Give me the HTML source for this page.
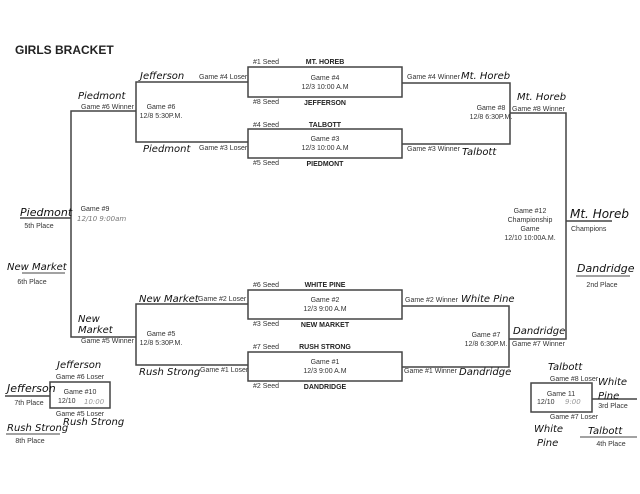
<!DOCTYPE html>
<html><head><meta charset="utf-8"><style>
html,body{margin:0;padding:0;background:#fff;}
svg{display:block;}
.t{font-family:"Liberation Sans",sans-serif;font-size:7px;fill:#333;}
.b{font-family:"Liberation Sans",sans-serif;font-size:7px;font-weight:bold;fill:#222;}
.h{font-family:"DejaVu Sans","Liberation Sans",sans-serif;font-size:10px;fill:#111;font-style:italic;}
</style></head><body>
<svg width="640" height="494" viewBox="0 0 640 494" xmlns="http://www.w3.org/2000/svg">
<rect width="640" height="494" fill="#fff"/>
<text x="15" y="54" font-family="Liberation Sans,sans-serif" font-size="12" font-weight="bold" fill="#222">GIRLS BRACKET</text>
<g stroke="#444" stroke-width="1.5" fill="none">
<!-- first-round boxes -->
<rect x="248" y="67" width="154" height="30"/>
<rect x="248" y="129" width="154" height="29"/>
<rect x="248" y="290" width="154" height="29"/>
<rect x="248" y="352" width="154" height="29"/>
<!-- game 6 -->
<polyline points="248,82 136,82 136,142 248,142"/>
<!-- game 5 -->
<polyline points="248,304 136,304 136,365 248,365"/>
<!-- game 9 -->
<polyline points="136,111 71,111 71,337 136,337"/>
<line x1="20" y1="218" x2="71" y2="218"/>
<!-- game 8 -->
<polyline points="402,83 510,83 510,144 402,144"/>
<!-- game 7 -->
<polyline points="402,306 509,306 509,367 402,367"/>
<!-- game 12 -->
<polyline points="510,113 566,113 566,339 509,339"/>
<line x1="566" y1="221" x2="612" y2="221"/>
<!-- consolation -->
<rect x="50" y="382" width="60" height="26"/>
<line x1="5" y1="396" x2="50" y2="396"/>
<rect x="531" y="383" width="61" height="29"/>
<line x1="592" y1="399" x2="637" y2="399"/>
</g>
<g stroke="#444" stroke-width="1" fill="none">
<line x1="22" y1="273" x2="65" y2="273"/>
<line x1="6" y1="434" x2="60" y2="434"/>
<line x1="576" y1="276" x2="630" y2="276"/>
<line x1="580" y1="437" x2="637" y2="437"/>
</g>
<!-- seeds -->
<g class="t">
<text x="253" y="64">#1 Seed</text><text x="253" y="104">#8 Seed</text>
<text x="253" y="127">#4 Seed</text><text x="253" y="165">#5 Seed</text>
<text x="253" y="287">#6 Seed</text><text x="253" y="326">#3 Seed</text>
<text x="253" y="349">#7 Seed</text><text x="253" y="388">#2 Seed</text>
</g>
<g class="b" text-anchor="middle">
<text x="325" y="64">MT. HOREB</text><text x="325" y="105">JEFFERSON</text>
<text x="325" y="127">TALBOTT</text><text x="325" y="166">PIEDMONT</text>
<text x="325" y="287">WHITE PINE</text><text x="325" y="327">NEW MARKET</text>
<text x="325" y="349">RUSH STRONG</text><text x="325" y="389">DANDRIDGE</text>
</g>
<g class="t" text-anchor="middle">
<text x="325" y="80">Game #4</text><text x="325" y="89">12/3 10:00 A.M</text>
<text x="325" y="141">Game #3</text><text x="325" y="150">12/3 10:00 A.M</text>
<text x="325" y="302">Game #2</text><text x="325" y="311">12/3 9:00 A.M</text>
<text x="325" y="364">Game #1</text><text x="325" y="373">12/3 9:00 A.M</text>
<text x="161" y="109">Game #6</text><text x="161" y="118">12/8 5:30P.M.</text>
<text x="161" y="336">Game #5</text><text x="161" y="345">12/8 5:30P.M.</text>
<text x="163" y="111"> </text>
<text x="491" y="110">Game #8</text><text x="491" y="119">12/8 6:30P.M.</text>
<text x="486" y="337">Game #7</text><text x="486" y="346">12/8 6:30P.M.</text>
<text x="95" y="211">Game #9</text>
<text x="530" y="213">Game #12</text><text x="530" y="222">Championship</text><text x="530" y="231">Game</text><text x="530" y="240">12/10 10:00A.M.</text>
<text x="80" y="394">Game #10</text>
<text x="561" y="396">Game 11</text>
<text x="80" y="379">Game #6 Loser</text><text x="80" y="416">Game #5 Loser</text>
<text x="574" y="381">Game #8 Loser</text><text x="574" y="419">Game #7 Loser</text>
<text x="39" y="228">5th Place</text><text x="32" y="284">6th Place</text>
<text x="29" y="405">7th Place</text><text x="30" y="443">8th Place</text>
<text x="602" y="287">2nd Place</text><text x="613" y="408">3rd Place</text>
<text x="611" y="446">4th Place</text>
</g>
<g class="t">
<text x="199" y="79">Game #4 Loser</text><text x="199" y="150">Game #3 Loser</text>
<text x="198" y="301">Game #2 Loser</text><text x="200" y="372">Game #1 Loser</text>
<text x="81" y="109">Game #6 Winner</text><text x="81" y="343">Game #5 Winner</text>
<text x="407" y="79">Game #4 Winner</text><text x="407" y="151">Game #3 Winner</text>
<text x="405" y="302">Game #2 Winner</text><text x="404" y="373">Game #1 Winner</text>
<text x="512" y="111">Game #8 Winner</text><text x="512" y="346">Game #7 Winner</text>
<text x="571" y="231">Champions</text>
<text x="58" y="403">12/10</text><text x="537" y="404">12/10</text>
</g>
<g class="h">
<text x="140" y="79">Jefferson</text><text x="143" y="152">Piedmont</text>
<text x="78" y="99">Piedmont</text>
<text x="139" y="302">New Market</text>
<text x="78" y="322">New</text><text x="78" y="333">Market</text>
<text x="139" y="375">Rush Strong</text>
<text x="461" y="79">Mt. Horeb</text><text x="462" y="155">Talbott</text>
<text x="517" y="100">Mt. Horeb</text>
<text x="461" y="302">White Pine</text><text x="459" y="375">Dandridge</text>
<text x="513" y="334">Dandridge</text>
<text x="570" y="218" font-size="12">Mt. Horeb</text>
<text x="577" y="272" font-size="11">Dandridge</text>
<text x="20" y="216" font-size="11">Piedmont</text>
<text x="7" y="270" font-size="10">New Market</text>
<text x="7" y="392" font-size="11">Jefferson</text>
<text x="7" y="431" font-size="10">Rush Strong</text>
<text x="57" y="368">Jefferson</text><text x="63" y="425">Rush Strong</text>
<text x="548" y="370">Talbott</text><text x="598" y="385">White</text><text x="598" y="399">Pine</text>
<text x="534" y="432">White</text><text x="537" y="446">Pine</text><text x="588" y="434">Talbott</text>
<text x="77" y="221" font-size="7" fill="#777">12/10  9:00am</text>
<text x="84" y="404" font-size="7" fill="#999">10:00</text>
<text x="565" y="404" font-size="7" fill="#999">9:00</text>
</g>
</svg>
</body></html>
